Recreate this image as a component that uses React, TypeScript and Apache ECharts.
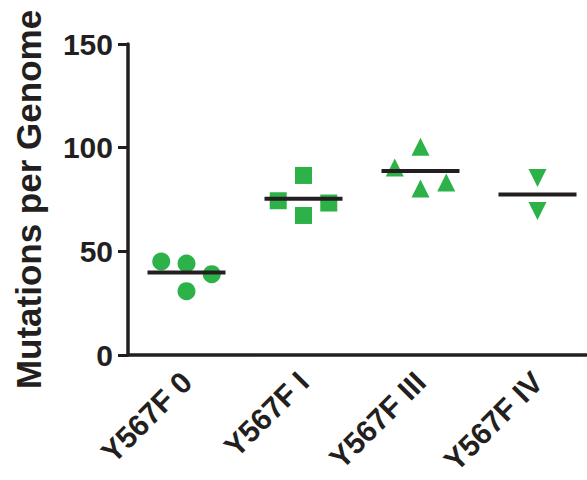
import React, { useEffect, useRef } from "react";
import * as echarts from "echarts";

const categories = ["Y567F 0", "Y567F I", "Y567F III", "Y567F IV"];
const yTicks = { min: 0, max: 150, interval: 50 };

const values0 = [45.1, 44.1, 39.0, 30.8];
const jitter0 = [-0.216, 0, 0.216, 0];
const values1 = [86.6, 74.4, 73.3, 67.3];
const jitter1 = [0, -0.216, 0.216, 0];
const values2 = [100.5, 90.4, 80.3, 83.2];
const jitter2 = [0, -0.22, 0, 0.22];
const values3 = [85.4, 69.4];
const jitter3 = [0, 0];
const means = [39.8, 75.4, 88.7, 77.4];

const GREEN = "#2db24a";
const BLACK = "#231f20";
const FONT = "Liberation Sans";

function pts(idx: number, vals: number[], jit: number[]) {
  return vals.map((v, k) => [idx + jit[k], v]);
}

export default function App() {
  const ref = useRef<HTMLDivElement>(null);
  useEffect(() => {
    if (!ref.current) return;
    const chart = echarts.init(ref.current, undefined, { renderer: "svg" });
    const common = { type: "scatter", xAxisIndex: 1, itemStyle: { color: GREEN, opacity: 1 }, z: 2 };
    chart.setOption({
      animation: false,
      grid: { left: 128, right: -9, top: 44, bottom: 125, containLabel: false, outerBoundsMode: "none" },
      xAxis: [
        {
          type: "category",
          data: categories,
          boundaryGap: true,
          axisLine: { onZero: false, lineStyle: { color: BLACK, width: 3.5 } },
          axisTick: { alignWithLabel: true, length: 10, lineStyle: { color: BLACK, width: 3 } },
          axisLabel: {
            rotate: 45,
            margin: 22,
            color: BLACK,
            fontFamily: FONT,
            fontWeight: "bold",
            fontSize: 30,
          },
          splitLine: { show: false },
        },
        { type: "value", min: -0.5, max: 3.5, show: false, splitLine: { show: false } },
      ],
      yAxis: {
        type: "value",
        min: yTicks.min,
        max: yTicks.max,
        interval: yTicks.interval,
        name: "Mutations per Genome",
        nameLocation: "middle",
        nameGap: 82,
        nameTextStyle: { color: BLACK, fontFamily: FONT, fontWeight: "bold", fontSize: 35 },
        axisLine: { show: true, onZero: false, lineStyle: { color: BLACK, width: 3.5 } },
        axisTick: { show: true, length: 10, lineStyle: { color: BLACK, width: 3 } },
        axisLabel: { margin: 15, color: BLACK, fontFamily: FONT, fontWeight: "bold", fontSize: 30 },
        splitLine: { show: false },
      },
      series: [
        { ...common, symbol: "circle", symbolSize: 18, data: pts(0, values0, jitter0) },
        { ...common, symbol: "rect", symbolSize: 17, data: pts(1, values1, jitter1) },
        { ...common, symbol: "triangle", symbolSize: 18, data: pts(2, values2, jitter2) },
        { ...common, symbol: "triangle", symbolRotate: 180, symbolSize: 18, data: pts(3, values3, jitter3) },
        {
          type: "scatter",
          xAxisIndex: 0,
          symbol: "rect",
          symbolSize: [78, 4],
          itemStyle: { color: BLACK, opacity: 1 },
          z: 3,
          data: means.map((m, i) => [i, m]),
        },
      ],
    });
    return () => chart.dispose();
  }, []);
  return (
    <div
      ref={ref}
      style={{ position: "fixed", left: 0, top: 0, width: 587, height: 480, background: "#fff" }}
    />
  );
}
